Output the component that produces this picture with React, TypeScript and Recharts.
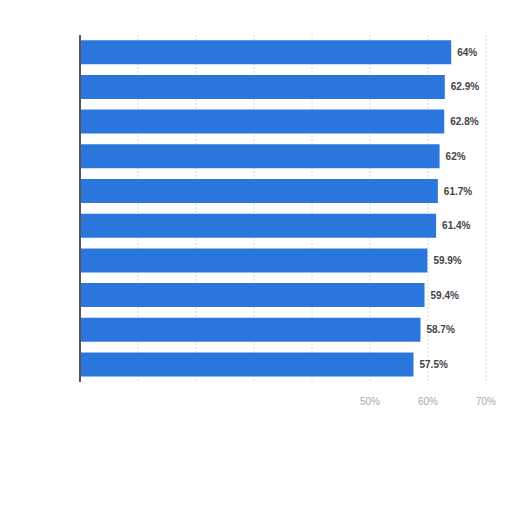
import { BarChart, Bar, XAxis, YAxis, CartesianGrid, LabelList } from "recharts";

const categories = ["A", "B", "C", "D", "E", "F", "G", "H", "I", "J"];
const shares = [64, 62.9, 62.8, 62, 61.7, 61.4, 59.9, 59.4, 58.7, 57.5];
const xTicks = [0, 10, 20, 30, 40, 50, 60, 70];

const data = categories.map((name, i) => ({ name, value: shares[i] }));

const App = () => {
  return (
    <div style={{ position: "absolute", left: 0, top: 0, width: 512, height: 512, background: "#fff" }}>
      <BarChart
        width={512}
        height={512}
        data={data}
        layout="vertical"
        margin={{ top: 35, right: 26, bottom: 100, left: 79 }}
        barCategoryGap="15%"
      >
        <CartesianGrid horizontal={false} stroke="#d8d8d8" strokeDasharray="2 2" />
        <XAxis
          type="number"
          domain={[0, 70]}
          ticks={xTicks}
          axisLine={false}
          tickLine={false}
          tickMargin={10}
          tick={{ fill: "#aaa", fontSize: 10, fontFamily: "Arial, sans-serif" }}
          tickFormatter={(v: number) => (v >= 50 ? `${v}%` : "")}
          height={30}
        />
        <YAxis
          type="category"
          dataKey="name"
          width={1}
          tick={false}
          tickLine={false}
          axisLine={{ stroke: "#555", strokeWidth: 2 }}
        />
        <Bar dataKey="value" fill="#2a76dd" isAnimationActive={false}>
          <LabelList
            dataKey="value"
            position="right"
            offset={6}
            formatter={(v: number) => `${v}%`}
            style={{ fill: "#444", fontSize: 10, fontWeight: "bold", fontFamily: "Arial, sans-serif" }}
          />
        </Bar>
      </BarChart>
    </div>
  );
};

export default App;
